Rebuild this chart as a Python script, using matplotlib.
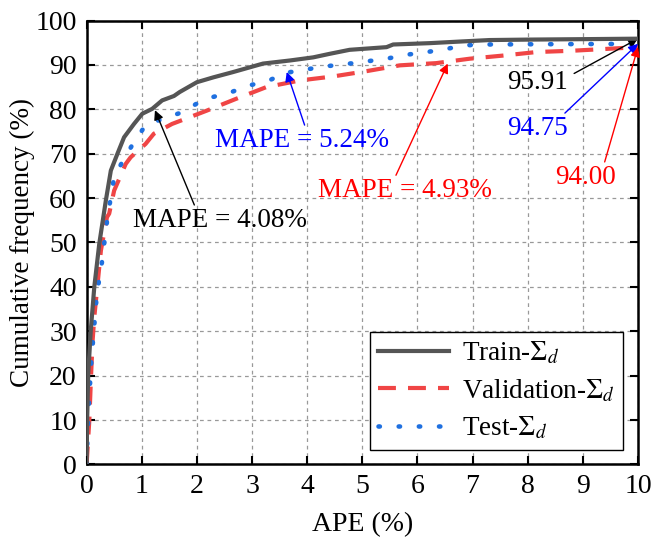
import numpy as np
import matplotlib
matplotlib.use('Agg')
import matplotlib.pyplot as plt

plt.rcParams['font.family'] = ['Liberation Serif', 'DejaVu Serif']
plt.rcParams['mathtext.fontset'] = 'stix'

# cumulative frequency curves (APE %, cumulative %)
train_x = [0, 0.005, 0.01, 0.03, 0.076, 0.14, 0.23, 0.35, 0.44, 0.56, 0.68, 0.86, 1.01, 1.19, 1.37,
           1.585, 1.69, 2.0, 2.30, 2.66, 3.20, 3.69, 4.11, 4.41, 4.77, 5.44, 5.56, 6.22, 6.83, 7.31,
           8.0, 9.0, 10.0]
train_y = [0, 5, 10, 20.5, 30.2, 40, 49.7, 59.5, 66.2, 70.0, 73.7, 76.7, 79.0, 80.1, 82.0,
           83.0, 83.9, 86.1, 87.2, 88.4, 90.3, 91.0, 91.7, 92.5, 93.4, 94.0, 94.6, 94.9, 95.3, 95.6,
           95.7, 95.8, 95.91]

val_x = [0, 0.02, 0.05, 0.08, 0.11, 0.14, 0.20, 0.26, 0.37, 0.41, 0.50, 0.71, 0.80, 1.07, 1.22,
         1.55, 1.74, 2.18, 2.72, 3.26, 3.87, 4.47, 5.08, 5.68, 6.34, 6.95, 7.55, 8.16, 8.82, 9.42, 10.0]
val_y = [0, 4, 10, 19.7, 28, 33.2, 40.7, 48.2, 55.7, 56.5, 61.7, 67.7, 69.2, 72.2, 74.5,
         76.7, 77.6, 79.7, 82.4, 85.0, 86.5, 87.4, 88.6, 89.9, 90.4, 91.4, 92.1, 92.9, 93.2, 93.6, 94.0]

test_x = [0, 0.015, 0.045, 0.09, 0.12, 0.18, 0.23, 0.29, 0.33, 0.38, 0.44, 0.50, 0.68, 0.86, 1.07,
          1.39, 1.75, 2.0, 2.27, 2.63, 2.96, 3.31, 3.61, 3.99, 4.35, 4.71, 5.08, 5.44, 5.81, 6.17,
          6.49, 6.84, 7.22, 8.0, 9.0, 10.0]
test_y = [0, 5.5, 14.5, 23.9, 28.4, 37.4, 41.9, 46.4, 50.9, 55.7, 60.2, 64.7, 68.9, 72.6, 76.4,
          77.9, 79.4, 81.3, 82.7, 83.9, 85.4, 86.5, 88.2, 89.0, 89.7, 90.2, 90.8, 91.4, 92.3, 92.9,
          93.5, 94.4, 94.6, 94.65, 94.7, 94.75]

fig = plt.figure(figsize=(6.51, 5.40), dpi=100)
ax = fig.add_axes([0.133, 0.140, 0.847, 0.822])

ax.plot(train_x, train_y, color='#555555', lw=3, ls='-', label=r'Train-$\Sigma_d$', zorder=4)
ax.plot(val_x, val_y, color='#f04545', lw=3, ls=(0, (4.3, 2.9)), label=r'Validation-$\Sigma_d$', zorder=3)
ax.plot(test_x, test_y, color='#1f70e0', lw=3.3, ls=(0, (0.3, 4.1)), dash_capstyle='round',
        label=r'Test-$\Sigma_d$', zorder=3)

ax.set_xlim(0, 10)
ax.set_ylim(0, 100)
ax.set_xticks(range(0, 11))
ax.set_yticks(range(0, 101, 10))
ax.grid(True, color='#999999', ls=(0, (3, 3)), lw=0.9)
ax.tick_params(direction='in', length=6, width=1.5, labelsize=20, top=True, right=True, pad=7)
for s in ax.spines.values():
    s.set_linewidth(1.8)

ax.set_xlabel('APE (%)', fontsize=20, labelpad=9)
ax.set_ylabel('Cumulative frequency (%)', fontsize=19.5)
ax.yaxis.set_label_coords(-0.094, 0.5)

arr = dict(arrowstyle='-|>', lw=1, mutation_scale=14, shrinkA=0, shrinkB=0)
ax.annotate('MAPE = 4.08%', xy=(1.24, 79.8), xytext=(0.84, 55.0), fontsize=19.5, color='black',
            ha='left', va='center', arrowprops=dict(arr, color='black', relpos=(0.36, 1.0)))
ax.annotate('MAPE = 5.24%', xy=(3.63, 88.4), xytext=(2.33, 73.0), fontsize=19.5, color='blue',
            ha='left', va='center', arrowprops=dict(arr, color='blue', relpos=(0.52, 1.0)))
ax.annotate('MAPE = 4.93%', xy=(6.55, 90.3), xytext=(4.2, 61.7), fontsize=19.5, color='red',
            ha='left', va='center', arrowprops=dict(arr, color='red', relpos=(0.44, 1.0)))
ax.annotate('95.91', xy=(10, train_y[-1]), xytext=(7.63, 86.1), fontsize=19.5, color='black',
            ha='left', va='center', arrowprops=dict(arr, color='black', relpos=(1.1, 0.85)))
ax.annotate('94.75', xy=(10, test_y[-1]), xytext=(7.63, 75.7), fontsize=19.5, color='blue',
            ha='left', va='center', arrowprops=dict(arr, color='blue', relpos=(0.9, 1.0)))
ax.annotate('94.00', xy=(10, val_y[-1]), xytext=(8.5, 64.7), fontsize=19.5, color='red',
            ha='left', va='center', arrowprops=dict(arr, color='red', relpos=(0.8, 1.0)))

leg = ax.legend(loc='lower right', fontsize=19.5, frameon=True, fancybox=False, framealpha=1,
                edgecolor='black', handlelength=2.6, borderaxespad=0.55, labelspacing=0.4,
                handletextpad=0.5, borderpad=0.3)
leg.get_frame().set_linewidth(1.0)

fig.savefig('out.png', dpi=100)
